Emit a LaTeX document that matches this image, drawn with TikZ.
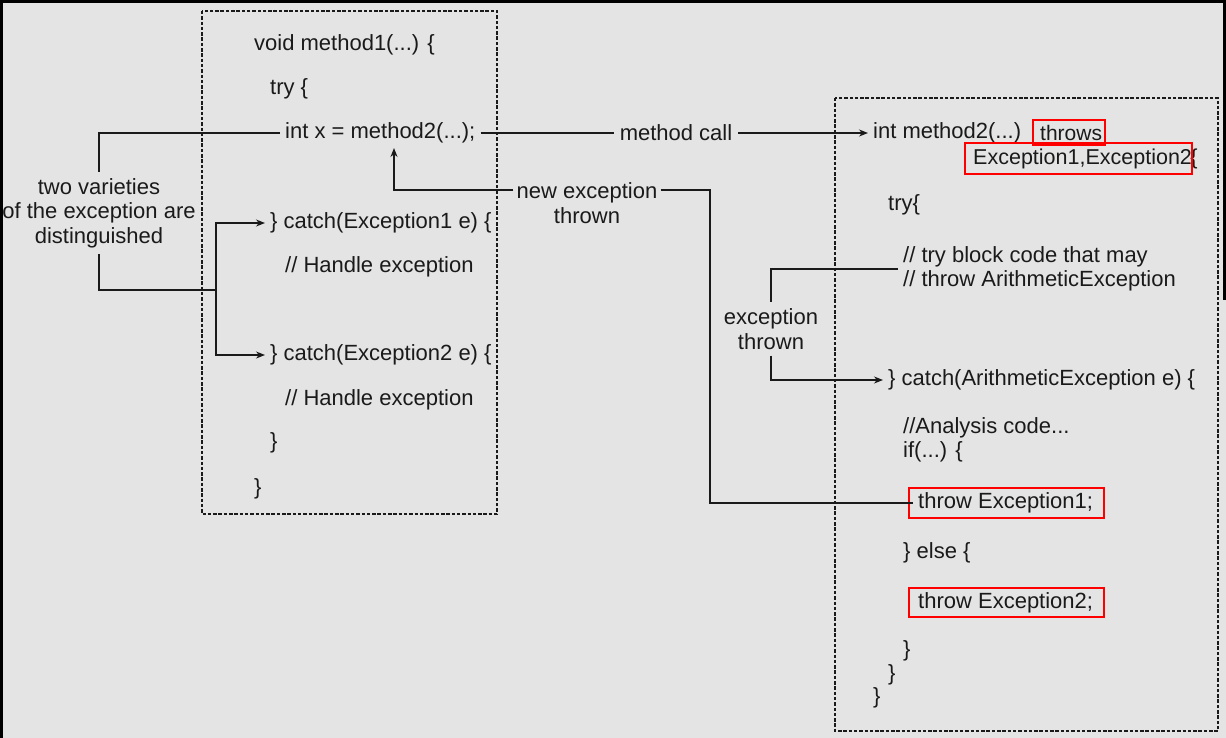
\documentclass[tikz,border=0pt]{standalone}
\usepackage{fontspec}
\setmainfont{Liberation Sans}
\usetikzlibrary{arrows.meta}
\definecolor{bgc}{HTML}{E4E4E4}
\definecolor{ink}{HTML}{1A1A1A}
\tikzset{
  code/.style={anchor=west, inner xsep=5pt, inner ysep=2pt, font=\fontsize{22}{24.5}\selectfont, text=ink},
  lbl/.style={align=center, inner xsep=3pt, inner ysep=6pt, font=\fontsize{22}{24.5}\selectfont, text=ink},
  conn/.style={draw=ink, line width=1.4pt},
  arr/.style={conn, -{Stealth[length=9pt,width=7pt]}},
  dbox/.style={draw=ink, line width=1.2pt, dash pattern=on 3.5pt off 1.8pt},
  redbox/.style={draw=red, line width=2.8pt}
}
\begin{document}
\begin{tikzpicture}[x=1pt,y=-1pt]
\useasboundingbox (0,0) rectangle (1226,738);
\fill[bgc] (0,0) rectangle (1226,738);
\draw[black, line width=3pt] (1.5,738) -- (1.5,1.5) -- (1224.5,1.5) -- (1224.5,300);
% dashed boxes
\draw[dbox] (202,11) rectangle (497,514);
\draw[dbox] (835,98) rectangle (1218,731);
% left code
\node[code] (m1) at (249,45) {void method1(...) \{};
\node[code] (try1) at (265,89) {try \{};
\node[code] (intx) at (280,133) {int x = method2(...);};
\node[code] (c1) at (265,223) {\} catch(Exception1 e) \{};
\node[code] (h1) at (280,267) {// Handle exception};
\node[code] (c2) at (265,355) {\} catch(Exception2 e) \{};
\node[code] (h2) at (280,400) {// Handle exception};
\node[code] (b1) at (265,443) {\}};
\node[code] (b2) at (249,489) {\}};
% right code
\node[code] (m2) at (868,133) {int method2(...)};
\node[code, font=\fontsize{21}{24}\selectfont] (thr) at (1035,133) {throws};
\node[code, font=\fontsize{21.5}{24}\selectfont] (exs) at (968,159) {Exception1,Exception2\hspace{-1.5pt}\{};
\node[code] (try2) at (883,205) {try\{};
\node[code] (tb1) at (898,257) {// try block code that may};
\node[code] (tb2) at (898,281) {// throw ArithmeticException};
\node[code] (ca) at (883,380) {\} catch(ArithmeticException e) \{};
\node[code] (an) at (898,428) {//Analysis code...};
\node[code] (iff) at (898,452) {if(...) \{};
\node[code] (t1) at (913,503) {throw Exception1;};
\node[code] (els) at (898,553) {\} else \{};
\node[code] (t2) at (913,603) {throw Exception2;};
\node[code] (r1) at (898,651) {\}};
\node[code] (r2) at (883,675) {\}};
\node[code] (r3) at (868,698) {\}};
% red boxes
\draw[redbox] (1033,120) rectangle (1105,145);
\draw[redbox] (965,143) rectangle (1192,174);
\draw[redbox] (909,488) rectangle (1104,518);
\draw[redbox] (909,588) rectangle (1104,617);
% labels
\node[lbl] (two) at (99,213) {two varieties\\of the exception are\\distinguished};
\node[lbl, inner xsep=6pt] (mc) at (676,133) {method call};
\node[lbl] (ne) at (587,203) {new exception\\thrown};
\node[lbl] (et) at (771,329) {exception\\thrown};
\coordinate (upArr) at (394,148);
% connectors
\draw[conn] (intx.west) -| (two.north);
\draw[conn] (two.south) |- (216,290) coordinate (jn);
\draw[arr] (jn) |- (c1.west);
\draw[arr] (jn) |- (c2.west);
\draw[conn] (intx.east) -- (mc.west);
\draw[arr] (mc.east) -- (m2.west);
\draw[arr] (ne.west |- 0,190) -| (upArr);
\draw[conn] (ne.east |- 0,190) -| (710,0 |- t1.west) -- (t1.west);
\draw[conn] (tb1.west |- 0,269) -| (et.north);
\draw[arr] (et.south) |- (ca.west);
\end{tikzpicture}
\end{document}
